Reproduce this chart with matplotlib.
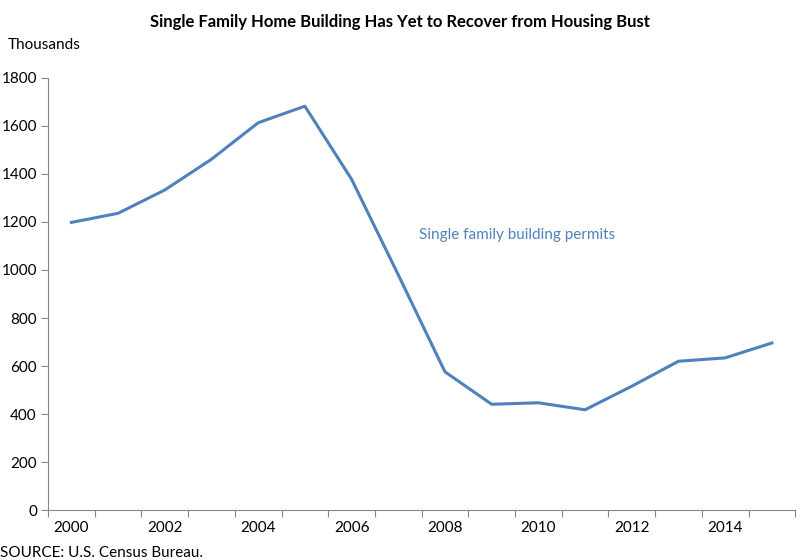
import matplotlib
matplotlib.use("Agg")
import matplotlib.pyplot as plt

years = list(range(2000, 2016))
permits = [1198, 1236, 1333, 1461, 1613, 1682, 1378, 980, 576, 441, 447, 418, 516, 620, 634, 696]
ytick_vals = [0, 200, 400, 600, 800, 1000, 1200, 1400, 1600, 1800]
xlabel_years = [2000, 2002, 2004, 2006, 2008, 2010, 2012, 2014]

plt.rcParams['font.family'] = ['Lato', 'DejaVu Sans']
fig = plt.figure(figsize=(8, 5.6), dpi=100)
ax = fig.add_axes([0.06, 0.089, 0.934, 0.772])
idx = list(range(len(years)))
ax.plot(idx, permits, color='#4f81bd', lw=2.2)
ax.set_xlim(-0.5, len(years) - 0.5)
ax.set_ylim(0, 1800)
ax.set_yticks(ytick_vals)
ax.set_yticklabels([str(v) for v in ytick_vals], fontsize=11)
ax.set_xticks([i - 0.5 for i in range(len(years) + 1)])
ax.set_xticklabels([])
ax.tick_params(axis='x', length=5, color='#868686')
ax.tick_params(axis='y', length=5, color='#868686', pad=3)
for y in xlabel_years:
    ax.text(years.index(y), -45, str(y), ha='center', va='top', fontsize=11)
for s in ['top', 'right']:
    ax.spines[s].set_visible(False)
for s in ['left', 'bottom']:
    ax.spines[s].set_color('#868686')
ax.text(years.index(2008) - 0.55, 1130, 'Single family building permits', color='#4f81bd', fontsize=11)
fig.text(0.5, 0.975, 'Single Family Home Building Has Yet to Recover from Housing Bust',
         ha='center', va='top', fontsize=12, fontweight='bold')
fig.text(0.01, 0.92, 'Thousands', ha='left', va='center', fontsize=11)
fig.text(0.0, 0.012, 'SOURCE: U.S. Census Bureau.', ha='left', va='center', fontsize=11)
fig.savefig('out.png', dpi=100)
